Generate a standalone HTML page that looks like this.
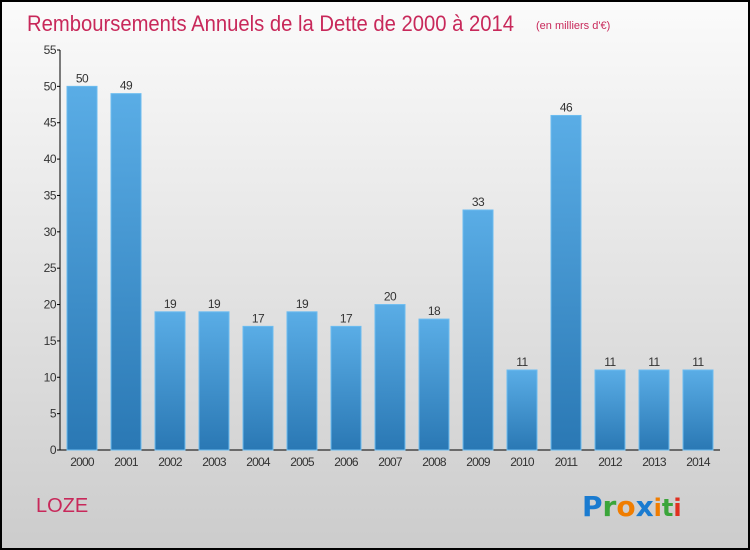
<!DOCTYPE html>
<html><head><meta charset="utf-8"><style>
body{margin:0}
#c{width:750px;height:550px;position:relative;overflow:hidden;font-family:"Liberation Sans",sans-serif}
</style></head><body>
<div id="c">
<svg id="s" width="750" height="550" xmlns="http://www.w3.org/2000/svg">
<defs>
<linearGradient id="bg" x1="0" y1="0" x2="0" y2="1"><stop offset="0" stop-color="#fbfbfb"/><stop offset="1" stop-color="#cccccc"/></linearGradient>
<linearGradient id="bar" x1="0" y1="0" x2="0" y2="1"><stop offset="0" stop-color="#5aade6"/><stop offset="1" stop-color="#2a78b4"/></linearGradient>
</defs>
<rect x="1" y="1" width="748" height="548" fill="url(#bg)" stroke="#000" stroke-width="2"/>
<text x="27" y="31" font-size="22" fill="#c8285a" textLength="487" lengthAdjust="spacingAndGlyphs">Remboursements Annuels de la Dette de 2000 à 2014</text>
<text x="536" y="29" font-size="11" fill="#c8285a">(en milliers d'€)</text>
<text x="36" y="512" font-size="20" fill="#c8285a">LOZE</text>
<g font-size="28" font-weight="bold" font-family="'DejaVu Sans',sans-serif">
<text x="582" y="516"><tspan fill="#1a7bd0">P</tspan><tspan fill="#3aa53a">r</tspan><tspan fill="#f07d00">o</tspan><tspan fill="#1a7bd0">x</tspan><tspan fill="#f07d00" font-size="24">i</tspan><tspan fill="#3aa53a" font-size="24">t</tspan><tspan fill="#e03020" font-size="24">i</tspan></text>
</g>
<g id="axes"></g>
<g id="bars"></g>
</svg>
</div>
<script>
const categories=["2000","2001","2002","2003","2004","2005","2006","2007","2008","2009","2010","2011","2012","2013","2014"];
const values=[50,49,19,19,17,19,17,20,18,33,11,46,11,11,11];
const yTicks=[0,5,10,15,20,25,30,35,40,45,50,55];
const NS="http://www.w3.org/2000/svg";
const y0=450,yTop=50,yMax=55,x0=60,step=44,firstC=82,bw=30;
function y(v){return y0-(v/yMax)*(y0-yTop);}
function x(i){return firstC+i*step;}
function mk(tag,attrs,parent){const e=document.createElementNS(NS,tag);for(const k in attrs)e.setAttribute(k,attrs[k]);parent.appendChild(e);return e;}
const ax=document.getElementById('axes'),bg=document.getElementById('bars');
let l=mk('line',{x1:x0,y1:y(55),x2:x0,y2:y0,stroke:'#000','stroke-width':1},ax);


l=mk('line',{x1:x0,y1:y0,x2:720,y2:y0,stroke:'#000','stroke-width':1},ax);


yTicks.forEach(t=>{
 const tk=mk('line',{x1:x0-3,y1:y(t),x2:x0,y2:y(t),stroke:'#000'},ax);
 
 
 const tx=mk('text',{x:x0-4,y:y(t)+4,'font-size':12,fill:'#333','text-anchor':'end','letter-spacing':'-0.5'},ax);
 tx.textContent=t;
 
 
});
categories.forEach((c,i)=>{
 const v=values[i];
 const r=mk('rect',{x:x(i)-bw/2,y:y(v),width:bw,height:y0-y(v),fill:'url(#bar)',stroke:'#6cbcf0','stroke-width':1},bg);
 
 
 const vt=mk('text',{x:x(i),y:y(v)-4,'font-size':12,fill:'#333','text-anchor':'middle','letter-spacing':'-0.5'},bg);
 vt.textContent=v;
 
 
 const ct=mk('text',{x:x(i),y:466,'font-size':12,fill:'#333','text-anchor':'middle','letter-spacing':'-0.8'},ax);
 ct.textContent=c;
 
 
});
</script>
</body></html>
